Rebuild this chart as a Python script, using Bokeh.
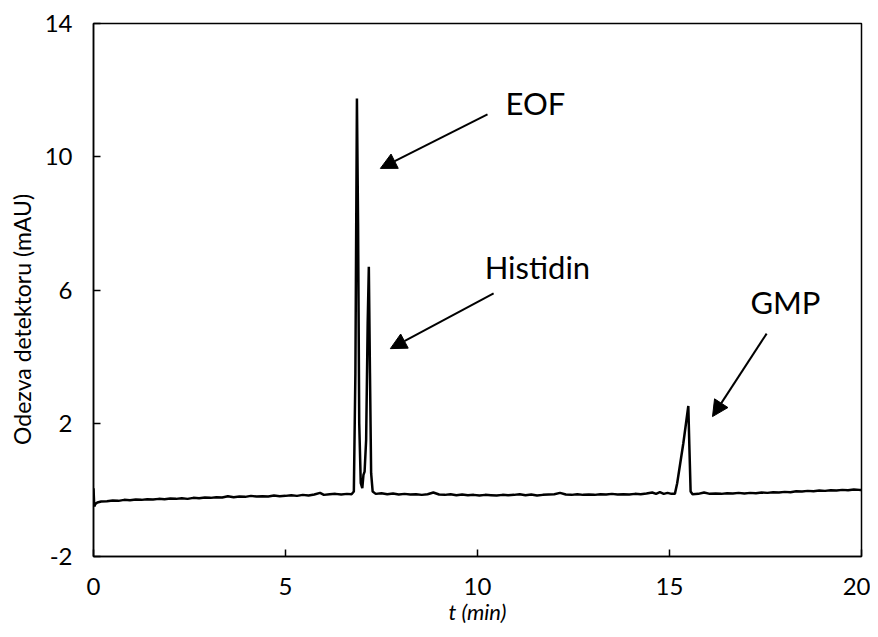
from bokeh.plotting import figure
from bokeh.models import Range1d, Label, Arrow, NormalHead, FixedTicker
from bokeh.embed import file_html
from bokeh.resources import INLINE

# --- data ---
time_min = [
    0.00, 0.02, 0.05, 0.10, 0.20, 0.35, 0.50, 0.65, 0.80, 0.95, 1.10, 1.25, 1.40, 1.55,
    1.70, 1.85, 2.00, 2.15, 2.30, 2.45, 2.60, 2.75, 2.90, 3.05, 3.20, 3.35, 3.50, 3.65,
    3.80, 3.95, 4.10, 4.25, 4.40, 4.55, 4.70, 4.85, 5.00, 5.15, 5.30, 5.45, 5.60, 5.75,
    5.90, 6.00, 6.15, 6.30, 6.45, 6.60, 6.72, 6.78, 6.82, 6.86, 6.89, 6.92, 6.96, 7.00,
    7.03, 7.06, 7.10, 7.14, 7.17, 7.20, 7.23, 7.27, 7.35, 7.50, 7.65, 7.80, 7.95, 8.10,
    8.25, 8.40, 8.55, 8.70, 8.85, 9.00, 9.15, 9.30, 9.45, 9.60, 9.75, 9.90, 10.05, 10.20,
    10.35, 10.50, 10.65, 10.80, 10.95, 11.10, 11.25, 11.40, 11.55, 11.70, 11.85, 12.00,
    12.15, 12.30, 12.45, 12.60, 12.75, 12.90, 13.05, 13.20, 13.35, 13.50, 13.65, 13.80,
    13.95, 14.10, 14.25, 14.40, 14.55, 14.65, 14.75, 14.85, 14.95, 15.05, 15.14, 15.20,
    15.28, 15.36, 15.43, 15.49, 15.52, 15.55, 15.60, 15.75, 15.90, 16.05, 16.20, 16.35,
    16.50, 16.65, 16.80, 16.95, 17.10, 17.25, 17.40, 17.55, 17.70, 17.85, 18.00, 18.15,
    18.30, 18.45, 18.60, 18.75, 18.90, 19.05, 19.20, 19.35, 19.50, 19.65, 19.80, 19.95,
    20.00,
]
response_mau = [
    0.05, -0.50, -0.42, -0.38, -0.35, -0.34, -0.32, -0.33, -0.30, -0.31, -0.29, -0.30, -0.28, -0.29,
    -0.27, -0.28, -0.26, -0.27, -0.25, -0.27, -0.24, -0.25, -0.23, -0.24, -0.22, -0.23, -0.19, -0.22,
    -0.20, -0.21, -0.18, -0.20, -0.19, -0.20, -0.17, -0.19, -0.18, -0.16, -0.18, -0.15, -0.17, -0.14,
    -0.09, -0.15, -0.13, -0.12, -0.14, -0.12, -0.13, -0.05, 3.50, 11.75, 8.00, 2.00, 0.20, 0.05,
    0.45, 0.55, 1.50, 5.00, 6.70, 3.50, 0.50, -0.05, -0.12, -0.10, -0.13, -0.11, -0.14, -0.12,
    -0.14, -0.13, -0.15, -0.13, -0.08, -0.14, -0.15, -0.13, -0.16, -0.14, -0.16, -0.15, -0.17, -0.15,
    -0.16, -0.17, -0.15, -0.16, -0.15, -0.13, -0.16, -0.14, -0.17, -0.15, -0.14, -0.13,
    -0.09, -0.14, -0.15, -0.13, -0.15, -0.14, -0.15, -0.13, -0.14, -0.12, -0.14, -0.13,
    -0.14, -0.12, -0.13, -0.11, -0.08, -0.12, -0.07, -0.12, -0.09, -0.12, -0.12, 0.20,
    0.80, 1.40, 2.00, 2.52, 1.20, -0.05, -0.13, -0.12, -0.08, -0.12, -0.11, -0.12,
    -0.10, -0.11, -0.09, -0.11, -0.09, -0.10, -0.08, -0.09, -0.07, -0.08, -0.06, -0.07,
    -0.04, -0.05, -0.03, -0.04, -0.02, -0.03, -0.01, -0.02, 0.00, -0.01, 0.01, 0.00,
    0.00,
]
x_ticks = [0, 5, 10, 15, 20]
y_ticks = [-2, 2, 6, 10, 14]
y_tick_labels = ["-2", "2", "6", "10", "14"]
peak_names = ["EOF", "Histidin", "GMP"]
y_title = "Odezva detektoru (mAU)"

FONT = "Lato"

p = figure(width=870, height=628, output_backend="svg", toolbar_location=None,
           x_range=Range1d(0, 20), y_range=Range1d(-2, 14),
           min_border_left=93, min_border_right=9, min_border_top=23, min_border_bottom=72)
p.background_fill_color = "white"
p.border_fill_color = "white"
p.grid.visible = False
p.outline_line_color = "black"
p.outline_line_width = 1.5

p.line(time_min, response_mau, line_color="black", line_width=2.5)

for ax in (p.xaxis[0], p.yaxis[0]):
    ax.axis_line_color = "black"
    ax.axis_line_width = 1.5
    ax.major_tick_in = 7
    ax.major_tick_out = 0
    ax.major_tick_line_color = "black"
    ax.major_tick_line_width = 1.5
    ax.minor_tick_line_color = None
    ax.major_label_text_font = FONT
    ax.major_label_text_font_size = "24px"
    ax.major_label_text_color = "black"
    ax.axis_label_text_font = FONT
    ax.axis_label_text_color = "black"

p.xaxis[0].ticker = FixedTicker(ticks=x_ticks)
p.yaxis[0].ticker = FixedTicker(ticks=y_ticks)
p.yaxis[0].major_label_overrides = {t: s for t, s in zip(y_ticks, y_tick_labels)}
p.xaxis[0].major_label_standoff = 21
p.yaxis[0].major_label_standoff = 21
p.xaxis[0].axis_label = "t (min)"
p.xaxis[0].axis_label_text_font_style = "italic"
p.xaxis[0].axis_label_text_font_size = "22px"
p.xaxis[0].axis_label_standoff = 0
# trailing no-break spaces push the visible title a little below centre, as in the reference
p.yaxis[0].axis_label = y_title + "\u00a0" * 10
p.yaxis[0].axis_label_text_font_style = "normal"
p.yaxis[0].axis_label_text_font_size = "23px"
p.yaxis[0].axis_label_standoff = 6

label_pos = [(11.51, 11.6), (11.56, 6.68), (18.02, 5.63)]
arrow_pos = [((10.26, 11.27), (7.47, 9.65)),
             ((10.42, 5.90), (7.73, 4.24)),
             ((17.53, 4.69), (16.12, 2.20))]

for name, (lx, ly), ((x0, y0), (x1, y1)) in zip(peak_names, label_pos, arrow_pos):
    p.add_layout(Label(x=lx, y=ly, text=name, text_align="center", text_baseline="middle",
                       text_font=FONT, text_font_size="31px", text_color="black"))
    p.add_layout(Arrow(end=NormalHead(size=16, fill_color="black", line_color="black"),
                       x_start=x0, y_start=y0, x_end=x1, y_end=y1,
                       line_color="black", line_width=2))

open("out.html", "w").write(file_html(p, INLINE))
